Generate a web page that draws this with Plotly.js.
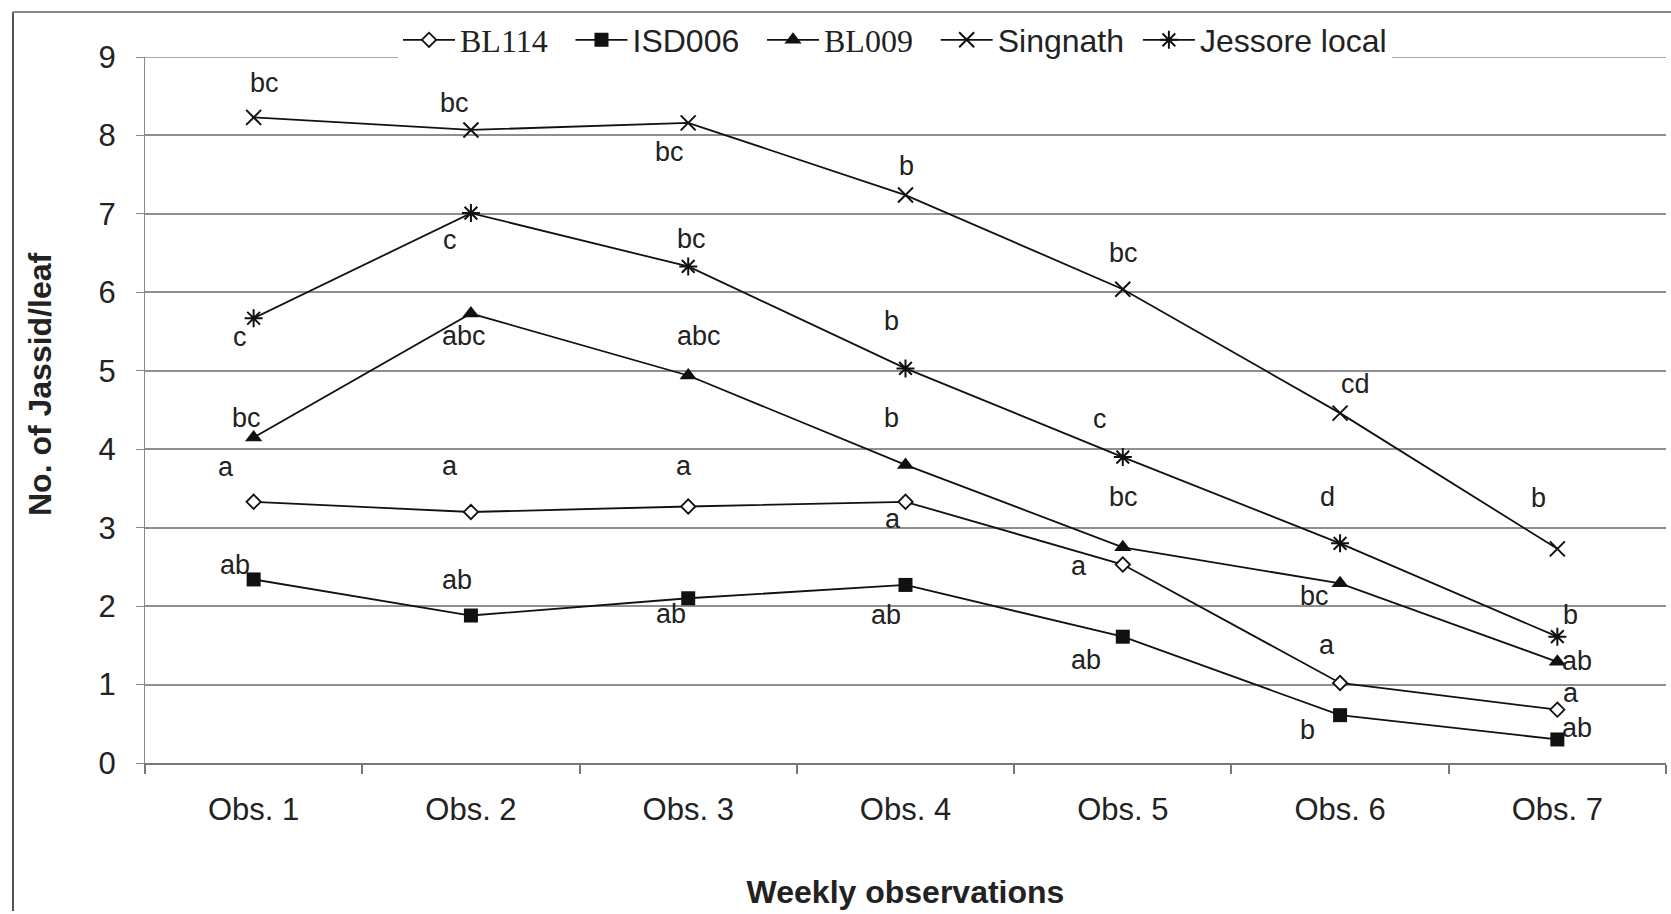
<!DOCTYPE html>
<html>
<head>
<meta charset="utf-8">
<script src="https://cdn.plot.ly/plotly-3.0.1.min.js"></script>
<style>
  html, body { margin: 0; padding: 0; background: #ffffff; }
  #chart { width: 1671px; height: 914px; }
</style>
</head>
<body>
<div id="chart"></div>
<script>
// ---- data ----
const categories = ["Obs. 1", "Obs. 2", "Obs. 3", "Obs. 4", "Obs. 5", "Obs. 6", "Obs. 7"];
const yTicks = [0, 1, 2, 3, 4, 5, 6, 7, 8, 9];

const bl114    = [3.33, 3.20, 3.27, 3.33, 2.53, 1.02, 0.68];
const isd006   = [2.34, 1.88, 2.10, 2.27, 1.61, 0.61, 0.30];
const bl009    = [4.15, 5.73, 4.94, 3.80, 2.75, 2.29, 1.29];
const singnath = [8.23, 8.07, 8.16, 7.24, 6.04, 4.46, 2.73];
const jessore  = [5.67, 7.01, 6.33, 5.03, 3.90, 2.80, 1.61];

// significance letters
const bl114Letters    = ["a", "a", "a", "a", "a", "a", "a"];
const isd006Letters   = ["ab", "ab", "ab", "ab", "ab", "b", "ab"];
const bl009Letters    = ["bc", "abc", "abc", "b", "bc", "bc", "ab"];
const singnathLetters = ["bc", "bc", "bc", "b", "bc", "cd", "b"];
const jessoreLetters  = ["c", "c", "bc", "b", "c", "d", "b"];

// ---- label placement (pixel shifts from each point) ----
const bl114Shift    = [[-28, 35], [-21, 46], [-4, 40], [-13, -17], [-44, -1], [-13, 38], [14, 17]];
const isd006Shift   = [[-19, 14], [-14, 36], [-17, -16], [-20, -30], [-37, -23], [-33, -15], [20, 11]];
const bl009Shift    = [[-7, 19], [-7, -22], [11, 39], [-14, 47], [1, 50], [-26, -13], [20, 1]];
const singnathShift = [[11, 34], [-16, 27], [-19, -29], [1, 29], [1, 36], [15, 29], [-19, 51]];
const jessoreShift  = [[-14, -19], [-21, -27], [3, 27], [-14, 47], [-23, 38], [-13, 46], [13, 22]];

const SANS = "Liberation Sans, Arial, sans-serif";
const INK = "#111111";
const serifName = t => '<span style="font-family:Liberation Serif, Times New Roman, serif">' + t + '</span>';

function trace(name, values, symbol, size, fill, lw) {
  return {
    type: "scatter",
    mode: "lines+markers",
    name: name,
    x: categories,
    y: values,
    line: { color: INK, width: 1.8 },
    marker: { symbol: symbol, size: size, color: fill, line: { color: INK, width: lw } },
    hoverinfo: "x+y+name"
  };
}

const data = [
  trace(serifName("BL114") + "&nbsp;&nbsp;", bl114, "diamond", 11, "#ffffff", 1.8),
  trace("ISD006&nbsp;&nbsp;", isd006, "square", 14, INK, 0),
  trace(serifName("BL009") + "&nbsp;&nbsp;", bl009, "triangle-up", 15, INK, 0),
  trace("Singnath&nbsp;", singnath, "x-thin-open", 15, INK, 2),
  trace("Jessore local", jessore, "asterisk-open", 15, INK, 2)
];

const annotations = [];
function addLetters(values, letters, shifts) {
  for (let i = 0; i < categories.length; i++) {
    annotations.push({
      x: categories[i], y: values[i], xref: "x", yref: "y",
      text: letters[i], showarrow: false,
      xshift: shifts[i][0], yshift: shifts[i][1],
      font: { family: SANS, size: 27, color: "#222222" }
    });
  }
}
addLetters(bl114, bl114Letters, bl114Shift);
addLetters(isd006, isd006Letters, isd006Shift);
addLetters(bl009, bl009Letters, bl009Shift);
addLetters(singnath, singnathLetters, singnathShift);
addLetters(jessore, jessoreLetters, jessoreShift);

// figure geometry helpers (pixels -> paper coords)
const W = 1671, H = 914, ML = 145, MR = 5, MT = 57, MB = 151;
const pw = W - ML - MR, ph = H - MT - MB;
const px = v => (v - ML) / pw;
const py = v => (H - MB - v) / ph;

// y-axis title, placed as in the reference (slightly above the plot centre)
annotations.push({
  xref: "paper", yref: "paper", x: px(40), y: py(384),
  text: "<b>No. of Jassid/leaf</b>", textangle: -90, showarrow: false,
  xanchor: "center", yanchor: "middle",
  font: { family: SANS, size: 32, color: "#222222" }
});

const shapes = [
  // scan border of the figure
  { type: "line", xref: "paper", yref: "paper", x0: px(13), x1: px(13), y0: py(12), y1: py(911),
    line: { color: "#555555", width: 2 } },
  { type: "line", xref: "paper", yref: "paper", x0: px(13), x1: px(1671), y0: py(12), y1: py(12),
    line: { color: "#8a8a8a", width: 2 } },
  // top gridline at 9 (plot edge)
  { type: "line", xref: "paper", yref: "y", x0: px(137), x1: 1, y0: 9, y1: 9, layer: "below",
    line: { color: "#8f8f8f", width: 1.6 } }
];

const layout = {
  width: W, height: H,
  margin: { l: ML, r: MR, t: MT, b: MB },
  paper_bgcolor: "#ffffff",
  plot_bgcolor: "#ffffff",
  font: { family: SANS, color: "#222222" },
  showlegend: true,
  legend: {
    orientation: "h",
    x: px(895), xanchor: "center",
    y: py(40), yanchor: "middle",
    bgcolor: "#ffffff",
    borderwidth: 0,
    itemwidth: 52,
    font: { family: SANS, size: 32, color: "#222222" },
    traceorder: "normal"
  },
  xaxis: {
    type: "category",
    range: [-0.5, 6.5],
    tickson: "boundaries",
    ticks: "outside",
    ticklen: 9,
    tickwidth: 1.5,
    tickcolor: "#777777",
    showgrid: false,
    showline: true,
    linecolor: "#777777",
    linewidth: 2,
    ticklabelstandoff: 18,
    tickfont: { family: SANS, size: 31, color: "#222222" },
    title: { text: "<b>Weekly observations</b>", font: { family: SANS, size: 32, color: "#222222" }, standoff: 54 },
    fixedrange: true
  },
  yaxis: {
    range: [0, 9],
    tickmode: "array",
    tickvals: yTicks,
    ticktext: yTicks.map(String),
    ticks: "outside",
    ticklen: 8,
    tickcolor: "#888888",
    showgrid: true,
    gridcolor: "#8f8f8f",
    gridwidth: 1.6,
    zeroline: false,
    showline: true,
    linecolor: "#888888",
    linewidth: 1.2,
    ticklabelstandoff: 14,
    tickfont: { family: SANS, size: 31, color: "#222222" },
    fixedrange: true
  },
  annotations: annotations,
  shapes: shapes
};

Plotly.newPlot("chart", data, layout, { displayModeBar: false });
</script>
</body>
</html>
